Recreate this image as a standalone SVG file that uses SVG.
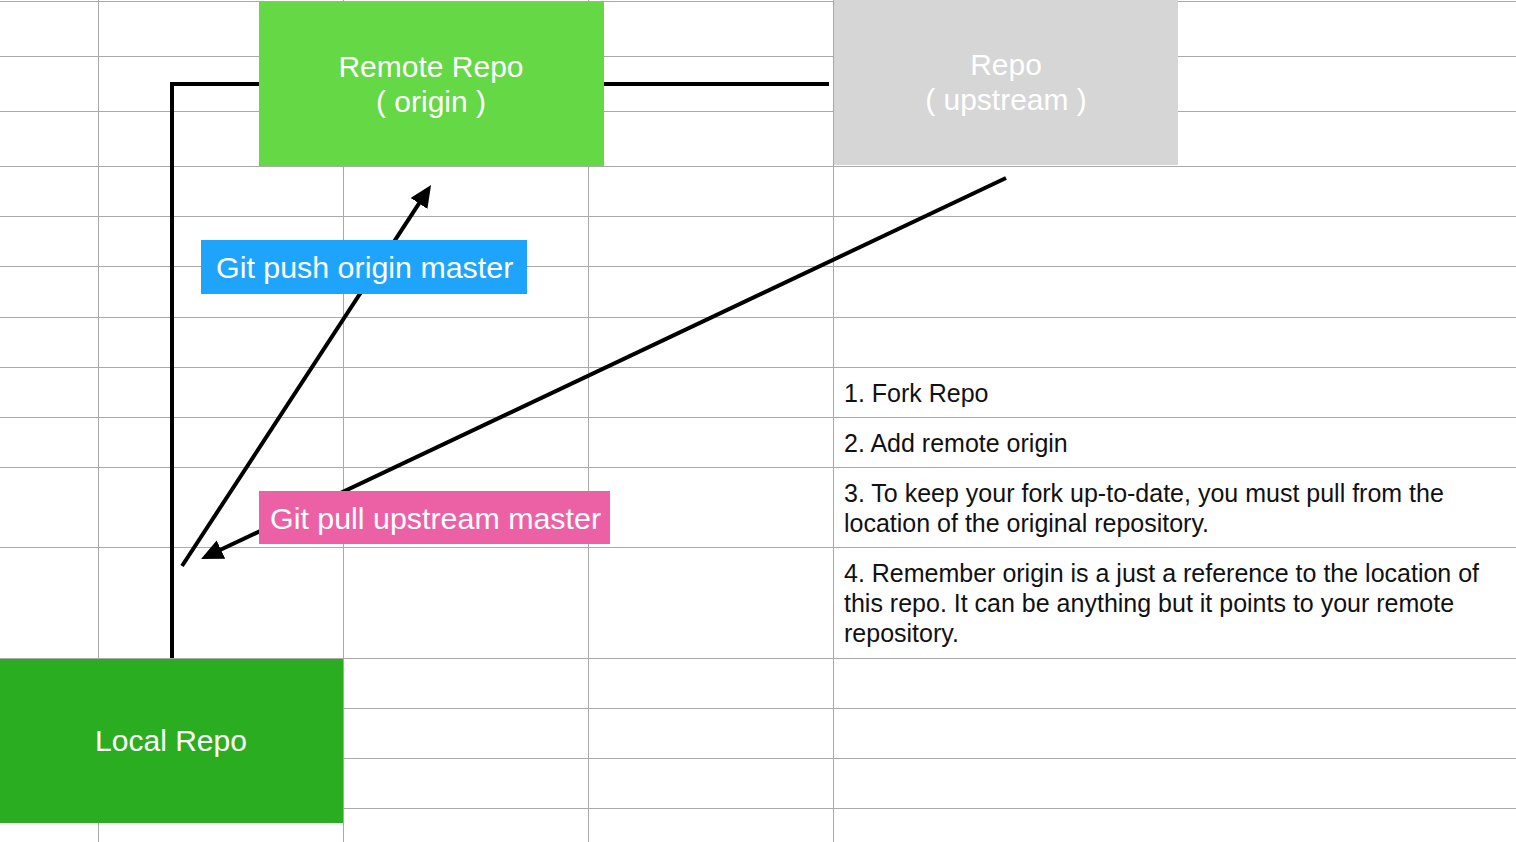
<svg xmlns="http://www.w3.org/2000/svg" width="1516" height="842" viewBox="0 0 1516 842">
<style>
.grid{stroke:#a9a9a9;stroke-width:1;fill:none}
.conn{stroke:#000;stroke-width:4;fill:none}
.nt{font-family:"Liberation Sans",Arial,sans-serif;font-size:30px;fill:#fff;text-anchor:middle}
.lt{font-family:"Liberation Sans",Arial,sans-serif;font-size:30.4px;fill:#fff}
.note{font-family:"Liberation Sans",Arial,sans-serif;font-size:25px;fill:#111}
</style>
<defs>
<marker id="ah" markerUnits="userSpaceOnUse" markerWidth="24" markerHeight="22" refX="4" refY="10" orient="auto" viewBox="0 0 24 22">
<path d="M0,0 L22,10 L0,20 z" fill="#000"/>
</marker>
</defs>
<rect width="1516" height="842" fill="#fff"/>
<g id="grid" class="grid">
<path d="M98.5,0V842M343.5,0V842M588.5,0V842M833.5,0V842"/>
<path d="M0,1.5H1516M0,56.5H1516M0,111.5H1516M0,166.5H1516M0,216.5H1516M0,266.5H1516M0,317.5H1516M0,367.5H1516M0,417.5H1516M0,467.5H1516M0,547.5H1516M0,658.5H1516M0,708.5H1516M0,758.5H1516M0,808.5H1516"/>
</g>
<g id="connectors">
<path class="conn" d="M172,658V84H259"/>
<path class="conn" d="M604,84H829"/>
<path class="conn" d="M182,566L421.2,200.1" marker-end="url(#ah)"/>
<path class="conn" d="M1006,178L217.3,551.3" marker-end="url(#ah)"/>
</g>
<g id="remote">
<rect x="259" y="2" width="345" height="164" fill="#65d845"/>
<text class="nt" x="431" y="77">Remote Repo</text>
<text class="nt" x="431" y="112">( origin )</text>
</g>
<g id="upstream">
<rect x="834" y="0" width="344" height="165" fill="#d6d6d6"/>
<text class="nt" x="1006" y="75">Repo</text>
<text class="nt" x="1006" y="110">( upstream )</text>
</g>
<g id="local">
<rect x="0" y="659" width="343" height="164" fill="#2aad20"/>
<text class="nt" x="171" y="751">Local Repo</text>
</g>
<g id="push-label">
<rect x="201" y="240" width="326" height="54" fill="#1ea5fb"/>
<text class="lt" x="216" y="278">Git push origin master</text>
</g>
<g id="pull-label">
<rect x="259" y="491" width="351" height="53" fill="#ec61a6"/>
<text class="lt" x="270" y="529">Git pull upstream master</text>
</g>
<g id="notes" class="note">
<text x="844" y="402">1. Fork Repo</text>
<text x="844" y="452">2. Add remote origin</text>
<text x="844" y="502">3. To keep your fork up-to-date, you must pull from the</text>
<text x="844" y="532">location of the original repository.</text>
<text x="844" y="582">4. Remember origin is a just a reference to the location of</text>
<text x="844" y="612">this repo. It can be anything but it points to your remote</text>
<text x="844" y="642">repository.</text>
</g>
</svg>
